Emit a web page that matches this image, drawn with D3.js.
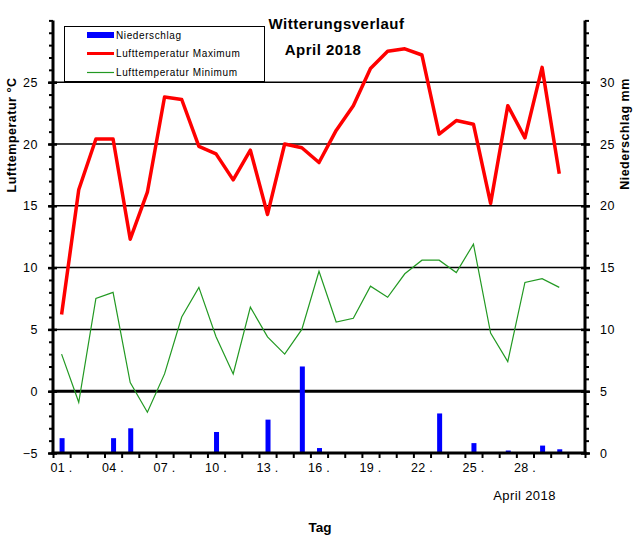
<!DOCTYPE html>
<html>
<head>
<meta charset="utf-8">
<script src="https://cdn.jsdelivr.net/npm/d3@7"></script>
<style>
  html, body { margin: 0; padding: 0; background: #fff; }
  svg { display: block; font-family: "Liberation Sans", Arial, sans-serif; }
</style>
</head>
<body>
<svg id="chart" width="633" height="541"></svg>
<script>
// ---------- data ----------
const days = d3.range(1, 31);
const slots = d3.range(1, 32);
const precipitation = [1.2, 0, 0, 1.2, 2.0, 0, 0, 0, 0, 1.7, 0, 0, 2.7, 0, 7.0, 0.4, 0, 0, 0, 0, 0, 0, 3.2, 0, 0.8, 0, 0.2, 0, 0.6, 0.3];
const tempMax = [6.2, 16.3, 20.4, 20.4, 12.3, 16.1, 23.8, 23.6, 19.8, 19.2, 17.1, 19.5, 14.3, 20.0, 19.7, 18.5, 21.1, 23.1, 26.1, 27.5, 27.7, 27.2, 20.8, 21.9, 21.6, 15.2, 23.1, 20.5, 26.2, 17.6];
const tempMin = [3.0, -0.9, 7.5, 8.0, 0.7, -1.7, 1.4, 6.0, 8.4, 4.4, 1.4, 6.8, 4.4, 3.0, 5.0, 9.7, 5.6, 5.9, 8.5, 7.6, 9.5, 10.6, 10.6, 9.6, 11.9, 4.7, 2.4, 8.8, 9.1, 8.4];
const tempTicks = [-5, 0, 5, 10, 15, 20, 25];
const precTicks = [0, 5, 10, 15, 20, 25, 30];
const dayLabelDays = [1, 4, 7, 10, 13, 16, 19, 22, 25, 28];
const seriesNames = ["Niederschlag", "Lufttemperatur Maximum", "Lufttemperatur Minimum"];

// ---------- layout ----------
const svg = d3.select("#chart");
const L = 53, R = 585, B = 453, T = 20.4;

const x = d3.scaleBand().domain(slots).range([L, R]).padding(0);
const xEdge = d3.scaleLinear().domain([0, 31]).range([L, R]);
const yT = d3.scaleLinear().domain([-5, 30]).range([B, T]);
const yP = d3.scaleLinear().domain([0, 35]).range([B, T]);
const cx = d => x(d) + x.bandwidth() / 2;

// gridlines
svg.append("g").selectAll("line").data([5, 10, 15, 20, 25]).join("line")
  .attr("x1", L).attr("x2", R)
  .attr("y1", d => yT(d)).attr("y2", d => yT(d))
  .attr("stroke", "#000").attr("stroke-width", 1.5);
svg.append("line").attr("x1", L).attr("x2", R).attr("y1", yT(0)).attr("y2", yT(0))
  .attr("stroke", "#000").attr("stroke-width", 3);

// bars
svg.append("g").selectAll("rect").data(days.map((d, i) => ({ d, v: precipitation[i] })).filter(o => o.v > 0)).join("rect")
  .attr("x", o => cx(o.d) - 2.5 + 0.5)
  .attr("width", 5)
  .attr("y", o => yP(o.v))
  .attr("height", o => yP(0) - yP(o.v))
  .attr("fill", "#0000ff");

// lines
const lineMax = d3.line().x((v, i) => cx(days[i])).y(v => yT(v));
svg.append("path").datum(tempMin).attr("d", lineMax)
  .attr("fill", "none").attr("stroke", "#229922").attr("stroke-width", 1.2);
svg.append("path").datum(tempMax).attr("d", lineMax)
  .attr("fill", "none").attr("stroke", "#ff0000").attr("stroke-width", 3.5).attr("stroke-linejoin", "round");

// left axis: minor ticks
const minorL = svg.append("g").attr("transform", `translate(${L},0)`)
  .call(d3.axisLeft(yT).tickValues(d3.range(-5, 31)).tickSize(4).tickFormat(""));
minorL.select(".domain").remove();
minorL.selectAll("line").attr("stroke-width", 2);
// major
const majorL = svg.append("g").attr("transform", `translate(${L},0)`)
  .call(d3.axisLeft(yT).tickValues(tempTicks).tickSizeInner(5).tickSizeOuter(0).tickPadding(8));
majorL.select(".domain").attr("stroke-width", 3).attr("d", `M0,${T}V${B + 1.5}`);
majorL.selectAll(".tick line").attr("x2", -5).attr("x1", 4).attr("stroke-width", 2.5);
majorL.selectAll("text").attr("font-size", 12.5).attr("fill", "#000").attr("font-family", "Liberation Sans, Arial")
  .attr("letter-spacing", 0.5).attr("dx", -2);

// right axis
const minorR = svg.append("g").attr("transform", `translate(${R},0)`)
  .call(d3.axisRight(yP).tickValues(d3.range(0, 36)).tickSize(4).tickFormat(""));
minorR.select(".domain").remove();
minorR.selectAll("line").attr("stroke-width", 2);
const majorR = svg.append("g").attr("transform", `translate(${R},0)`)
  .call(d3.axisRight(yP).tickValues(precTicks).tickSizeInner(5).tickSizeOuter(0).tickPadding(8));
majorR.select(".domain").attr("stroke-width", 3).attr("d", `M0,${T}V${B + 1.5}`);
majorR.selectAll(".tick line").attr("x1", -4).attr("x2", 5).attr("stroke-width", 2.5);
majorR.selectAll("text").attr("font-size", 12.5).attr("fill", "#000").attr("font-family", "Liberation Sans, Arial")
  .attr("letter-spacing", 0.5).attr("dx", 2);

// bottom axis
const xTicks = svg.append("g").attr("transform", `translate(0,${B})`)
  .call(d3.axisBottom(xEdge).tickValues(d3.range(0, 32)).tickSize(5).tickFormat(""));
xTicks.select(".domain").remove();
xTicks.selectAll("line").attr("stroke-width", 2);
svg.append("line").attr("x1", L - 1.5).attr("x2", R + 1.5).attr("y1", B).attr("y2", B)
  .attr("stroke", "#000").attr("stroke-width", 3);
const xLab = svg.append("g").attr("transform", `translate(0,${B})`)
  .call(d3.axisBottom(x).tickValues(dayLabelDays).tickSize(0).tickPadding(10)
    .tickFormat(d => String(d).padStart(2, "0") + " ."));
xLab.select(".domain").remove();
xLab.selectAll("text").attr("font-size", 12.5).attr("fill", "#000").attr("font-family", "Liberation Sans, Arial")
  .attr("letter-spacing", 0.3);

// titles
svg.append("text").attr("x", 336.5).attr("y", 29).attr("text-anchor", "middle")
  .attr("font-size", 15).attr("font-weight", "bold").attr("letter-spacing", 0.5).text("Witterungsverlauf");
svg.append("text").attr("x", 323).attr("y", 55).attr("text-anchor", "middle")
  .attr("font-size", 15).attr("font-weight", "bold").attr("letter-spacing", 0.5).text("April 2018");
svg.append("text").attr("x", 524.5).attr("y", 500).attr("text-anchor", "middle")
  .attr("font-size", 13).attr("letter-spacing", 0.4).text("April 2018");
svg.append("text").attr("x", 320).attr("y", 532).attr("text-anchor", "middle")
  .attr("font-size", 13.5).attr("font-weight", "bold").text("Tag");
svg.append("text").attr("transform", "translate(16,135) rotate(-90)").attr("text-anchor", "middle")
  .attr("font-size", 12.5).attr("font-weight", "bold").attr("letter-spacing", 0.5).text("Lufttemperatur  °C");
svg.append("text").attr("transform", "translate(629,134) rotate(-90)").attr("text-anchor", "middle")
  .attr("font-size", 12.5).attr("font-weight", "bold").attr("letter-spacing", 0.5).text("Niederschlag  mm");

// legend
const lg = svg.append("g");
lg.append("rect").attr("x", 64.5).attr("y", 26.5).attr("width", 200).attr("height", 55)
  .attr("fill", "#fff").attr("stroke", "#000").attr("stroke-width", 1);
lg.append("rect").attr("x", 87).attr("y", 32).attr("width", 27).attr("height", 6).attr("fill", "#0000ff");
lg.append("line").attr("x1", 87).attr("x2", 114).attr("y1", 53.5).attr("y2", 53.5).attr("stroke", "#ff0000").attr("stroke-width", 3);
lg.append("line").attr("x1", 87).attr("x2", 114).attr("y1", 72.5).attr("y2", 72.5).attr("stroke", "#229922").attr("stroke-width", 1.2);
lg.selectAll("text.lt").data(seriesNames).join("text").attr("class", "lt")
  .attr("x", 116).attr("y", (d, i) => [39, 57, 75.5][i])
  .attr("font-size", 10).attr("letter-spacing", 0.6).text(d => d);
</script>
</body>
</html>
